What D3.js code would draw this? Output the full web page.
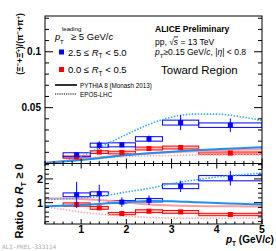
<!DOCTYPE html>
<html><head><meta charset="utf-8">
<script src="https://cdn.jsdelivr.net/npm/d3@7"></script>
<style>
body{margin:0;background:#fff;}
svg{display:block;font-family:"Liberation Sans",Arial,Helvetica,sans-serif;}
</style></head>
<body>
<svg id="c" width="276" height="251"></svg>
<script>
// ---------- data ----------
const ptCenters = [0.9, 1.4, 1.9, 2.5, 3.2, 4.3];
const binLow    = [0.6, 1.2, 1.6, 2.2, 2.8, 3.6];
const binHigh   = [1.2, 1.6, 2.2, 2.8, 3.6, 5.0];

const blueTop     = [0.0078, 0.0164, 0.0167, 0.0220, 0.0366, 0.0343];
const blueTopStat = [0.0015, 0.0035, 0.0020, 0.0030, 0.0067, 0.0060];
const blueTopSys  = [0.0018, 0.0018, 0.0018, 0.0020, 0.0022, 0.0020];
const redTop      = [0.0057, 0.0102, 0.0098, 0.0134, 0.0143, 0.0093];
const redTopStat  = [0.0006, 0.0008, 0.0008, 0.0009, 0.0010, 0.0010];
const redTopSys   = [0.0010, 0.0012, 0.0012, 0.0013, 0.0013, 0.0010];

const blueRatio     = [1.33, 1.375, 1.025, 1.10, 1.69, 2.03];
const blueRatioStat = [0.55, 0.38, 0.20, 0.20, 0.24, 0.31];
const blueRatioSys  = [0.08, 0.08, 0.06, 0.07, 0.10, 0.11];
const redRatio      = [0.92, 0.78, 0.54, 0.64, 0.61, 0.50];
const redRatioStat  = [0.08, 0.05, 0.04, 0.04, 0.04, 0.04];
const redRatioSys   = [0.07, 0.06, 0.05, 0.06, 0.06, 0.05];

const modelPt        = [0.2, 0.6, 1.0, 1.4, 2.0, 2.5, 3.0, 3.5, 4.0, 4.5, 5.0];
const pythiaBlueTop  = [0.0005, 0.0018, 0.0032, 0.0048, 0.0075, 0.0092, 0.0106, 0.0118, 0.0128, 0.0137, 0.0145];
const pythiaRedTop   = [0.0006, 0.0022, 0.0038, 0.0054, 0.0076, 0.0090, 0.0101, 0.0110, 0.0117, 0.0123, 0.0128];
const eposBlueTop    = [0.0005, 0.0020, 0.0065, 0.0140, 0.0260, 0.0350, 0.0415, 0.0442, 0.0442, 0.0420, 0.0385];
const eposRedTop     = [0.0003, 0.0018, 0.0035, 0.0048, 0.0062, 0.0068, 0.0072, 0.0075, 0.0077, 0.0078, 0.0078];

const pythiaBlueRatio = [0.85, 0.87, 0.90, 0.94, 1.02, 1.07, 1.06, 1.02, 0.98, 0.95, 0.92];
const pythiaRedRatio  = [1.18, 1.17, 1.15, 1.11, 1.00, 0.92, 0.88, 0.86, 0.85, 0.85, 0.84];
const eposBlueRatio   = [1.13, 1.16, 1.20, 1.26, 1.45, 1.60, 1.80, 1.95, 2.08, 2.17, 2.25];
const eposRedRatio    = [0.82, 0.72, 0.60, 0.52, 0.43, 0.38, 0.35, 0.34, 0.34, 0.34, 0.34];

const topMajorTicks = [0.05, 0.1];
const topTickLabels = ["0.05", "0.1"];
const topMinorTicks = [0.01,0.02,0.03,0.04,0.06,0.07,0.08,0.09,0.11,0.12,0.13];
const ratioMajorTicks = [1, 2];
const xMajorTicks = [1, 2, 3, 4, 5];

// ---------- layout ----------
const L = 45, R = 262, T1 = 16, B1 = 163.5, B2 = 224;
const svg = d3.select("#c");
const x = d3.scaleLinear().domain([0.2, 5]).range([L, R]);
const yTop = d3.scaleLinear().domain([0, 0.132]).range([B1, T1]);
const yRat = d3.scaleLinear().domain([0.1, 2.65]).range([B2, B1]);

const BLUE = "#0000ff", RED = "#ff0000";
const MBLUE = "#1f8ff0", MBLUE_D = "#3aaaf5", PINK = "#ff9c9c", PINK_D = "#ffaaaa";

const defs = svg.append("defs");
defs.append("clipPath").attr("id","cTop").append("rect").attr("x",L).attr("y",T1).attr("width",R-L).attr("height",B1-T1);
defs.append("clipPath").attr("id","cBot").append("rect").attr("x",L).attr("y",B1).attr("width",R-L).attr("height",B2-B1);

function drawPanel(y, clipId, models, series){
  const g = svg.append("g").attr("clip-path",`url(#${clipId})`);
  series.forEach(s=>{
    g.selectAll(null).data(ptCenters).enter().append("rect")
      .attr("x",(d,i)=>x(binLow[i])).attr("width",(d,i)=>x(binHigh[i])-x(binLow[i]))
      .attr("y",(d,i)=>y(s.v[i]+s.sys[i])).attr("height",(d,i)=>y(s.v[i]-s.sys[i])-y(s.v[i]+s.sys[i]))
      .attr("fill",s.fill).attr("stroke",s.color).attr("stroke-width",1);
  });
  models.forEach(m=>{
    const line = d3.line().x((d,i)=>x(modelPt[i])).y(d=>y(d)).curve(d3.curveMonotoneX);
    g.append("path").attr("d",line(m.v)).attr("fill","none").attr("stroke",m.color)
      .attr("stroke-width",m.w).attr("stroke-dasharray",m.dash||null);
  });
  series.forEach(s=>{
    g.selectAll(null).data(ptCenters).enter().append("line")
      .attr("x1",d=>x(d)).attr("x2",d=>x(d))
      .attr("y1",(d,i)=>y(s.v[i]+s.stat[i])).attr("y2",(d,i)=>y(s.v[i]-s.stat[i]))
      .attr("stroke",s.color).attr("stroke-width",1);
    g.selectAll(null).data(ptCenters).enter().append("rect")
      .attr("x",d=>x(d)-2.5).attr("y",(d,i)=>y(s.v[i])-2.5).attr("width",5).attr("height",5)
      .attr("fill",s.color);
  });
}

drawPanel(yTop,"cTop",[
  {v:pythiaRedTop,color:PINK,w:2},
  {v:eposRedTop,color:PINK_D,w:1.6,dash:"1.5,1.5"},
  {v:pythiaBlueTop,color:MBLUE,w:2},
  {v:eposBlueTop,color:MBLUE_D,w:1.6,dash:"1.5,1.5"}
],[
  {v:redTop,stat:redTopStat,sys:redTopSys,color:RED,fill:"rgba(255,120,120,0.45)"},
  {v:blueTop,stat:blueTopStat,sys:blueTopSys,color:BLUE,fill:"none"}
]);
drawPanel(yRat,"cBot",[
  {v:pythiaRedRatio,color:PINK,w:2},
  {v:eposRedRatio,color:PINK_D,w:1.6,dash:"1.5,1.5"},
  {v:pythiaBlueRatio,color:MBLUE,w:2},
  {v:eposBlueRatio,color:MBLUE_D,w:1.6,dash:"1.5,1.5"}
],[
  {v:redRatio,stat:redRatioStat,sys:redRatioSys,color:RED,fill:"rgba(255,120,120,0.45)"},
  {v:blueRatio,stat:blueRatioStat,sys:blueRatioSys,color:BLUE,fill:"none"}
]);

// ---------- axes ----------
const ax = svg.append("g").attr("stroke","#000").attr("stroke-width",1);
function yTicks(y, majors, minors, majLen, minLen){
  majors.forEach(v=>{ax.append("line").attr("x1",L).attr("x2",L+majLen).attr("y1",y(v)).attr("y2",y(v));
                     ax.append("line").attr("x1",R).attr("x2",R-majLen).attr("y1",y(v)).attr("y2",y(v));});
  minors.forEach(v=>{ax.append("line").attr("x1",L).attr("x2",L+minLen).attr("y1",y(v)).attr("y2",y(v));
                     ax.append("line").attr("x1",R).attr("x2",R-minLen).attr("y1",y(v)).attr("y2",y(v));});
}
yTicks(yTop, topMajorTicks, topMinorTicks, 8, 4);
const ratioMinor = d3.range(0.2, 2.65, 0.2).filter(v=>Math.abs(v-1)>0.01 && Math.abs(v-2)>0.01);
yTicks(yRat, ratioMajorTicks, ratioMinor, 8, 4);
const xMinor = d3.range(0.2, 5.01, 0.2).filter(v=>Math.abs(v-Math.round(v))>0.01);
function xTicks(yPos, dir){
  xMajorTicks.forEach(v=>ax.append("line").attr("x1",x(v)).attr("x2",x(v)).attr("y1",yPos).attr("y2",yPos+dir*5));
  xMinor.forEach(v=>ax.append("line").attr("x1",x(v)).attr("x2",x(v)).attr("y1",yPos).attr("y2",yPos+dir*2.5));
}
xTicks(B1,-1); xTicks(B1,1); xTicks(B2,-1);
ax.append("rect").attr("x",L).attr("y",T1).attr("width",R-L).attr("height",B2-T1).attr("fill","none");
ax.append("line").attr("x1",L).attr("x2",R).attr("y1",B1).attr("y2",B1);

// tick labels
const lab = svg.append("g").attr("font-weight","bold").attr("fill","#000");
topMajorTicks.forEach((v,i)=>lab.append("text").attr("x",41).attr("y",yTop(v)+3.5).attr("text-anchor","end").attr("font-size",10).text(topTickLabels[i]));
ratioMajorTicks.forEach(v=>lab.append("text").attr("x",43).attr("y",yRat(v)+4).attr("text-anchor","end").attr("font-size",11).text(v));
xMajorTicks.forEach(v=>lab.append("text").attr("x",x(v)).attr("y",233).attr("text-anchor","middle").attr("font-size",10.5).text(v));

// axis titles
const xt = svg.append("text").attr("x",226).attr("y",242.5).attr("font-size",10).attr("font-weight","bold");
xt.append("tspan").attr("font-style","italic").text("p");
xt.append("tspan").attr("font-size",6.5).attr("dy",3.5).text("T");
xt.append("tspan").attr("dy",-3.5).text(" (GeV/");
xt.append("tspan").attr("font-style","italic").text("c");
xt.append("tspan").text(")");

const yt = svg.append("text").attr("transform","translate(23,44) rotate(-90)").attr("text-anchor","middle").attr("font-size",8.5).attr("font-weight","bold");
yt.append("tspan").text("(Ξ");
yt.append("tspan").attr("font-size",6).attr("dy",-3.5).text("−");
yt.append("tspan").attr("dy",3.5).text("+Ξ̄");
yt.append("tspan").attr("font-size",6).attr("dy",-3.5).text("+");
yt.append("tspan").attr("dy",3.5).text(")/(π");
yt.append("tspan").attr("font-size",6).attr("dy",-3.5).text("−");
yt.append("tspan").attr("dy",3.5).text("+π");
yt.append("tspan").attr("font-size",6).attr("dy",-3.5).text("+");
yt.append("tspan").attr("dy",3.5).text(")");

const yb = svg.append("text").attr("transform","translate(23,201) rotate(-90)").attr("text-anchor","middle").attr("font-size",11).attr("font-weight","bold");
yb.append("tspan").text("Ratio to ");
yb.append("tspan").attr("font-style","italic").text("R");
yb.append("tspan").attr("font-size",7.5).attr("dy",3).text("T");
yb.append("tspan").attr("dy",-3).text(" ≥ 0");

// ---------- legend ----------
const lg = svg.append("g").attr("fill","#000");
lg.append("text").attr("x",55).attr("y",40).attr("font-size",9.5).attr("font-style","italic").text("p");
lg.append("text").attr("x",62).attr("y",31).attr("font-size",6).text("leading");
lg.append("text").attr("x",60).attr("y",44).attr("font-size",6).text("T");
const t1 = lg.append("text").attr("x",71).attr("y",40).attr("font-size",9.5);
t1.append("tspan").text("≥ 5 GeV/");
t1.append("tspan").attr("font-style","italic").text("c");

[[BLUE,"2.5 ≤ ","5.0",52],[RED,"0.0 ≤ ","0.5",69.5]].forEach(([c,a,b,yy])=>{
  lg.append("rect").attr("x",59).attr("y",yy-2.5).attr("width",5).attr("height",5).attr("fill",c);
  const t = lg.append("text").attr("x",68).attr("y",yy+3.5).attr("font-size",9.5);
  t.append("tspan").text(a);
  t.append("tspan").attr("font-style","italic").text("R");
  t.append("tspan").attr("font-size",6.5).attr("dy",2.5).text("T");
  t.append("tspan").attr("dy",-2.5).text(" < "+b);
});
lg.append("line").attr("x1",55).attr("x2",77).attr("y1",85).attr("y2",85).attr("stroke","#000").attr("stroke-width",1.6);
lg.append("line").attr("x1",55).attr("x2",77).attr("y1",94).attr("y2",94).attr("stroke","#000").attr("stroke-width",1.2).attr("stroke-dasharray","1.2,1");
lg.append("text").attr("x",80).attr("y",87.5).attr("font-size",6.3).text("PYTHIA 8 (Monash 2013)");
lg.append("text").attr("x",80).attr("y",96.5).attr("font-size",6.3).text("EPOS-LHC");

// right texts
lg.append("text").attr("x",155).attr("y",31.5).attr("font-size",8.5).attr("font-weight","bold").text("ALICE Preliminary");
const t2 = lg.append("text").attr("x",155).attr("y",44.5).attr("font-size",8.5);
t2.append("tspan").text("pp, ");
t2.append("tspan").text("√");
t2.append("tspan").attr("font-style","italic").attr("text-decoration","overline").text("s");
t2.append("tspan").text(" = 13 TeV");
const t3 = lg.append("text").attr("x",155).attr("y",55).attr("font-size",8.5);
t3.append("tspan").attr("font-style","italic").text("p");
t3.append("tspan").attr("font-size",6).attr("dy",2.5).text("T");
t3.append("tspan").attr("dy",-2.5).text("≥0.15 GeV/");
t3.append("tspan").attr("font-style","italic").text("c");
t3.append("tspan").text(", |");
t3.append("tspan").attr("font-style","italic").text("η");
t3.append("tspan").text("| < 0.8");
lg.append("text").attr("x",161).attr("y",74).attr("font-size",11.5).text("Toward Region");

svg.append("text").attr("x",2).attr("y",249).attr("font-size",6).attr("fill","#aaa")
  .attr("font-family","'DejaVu Sans Mono',monospace").text("ALI-PREL-333114");
</script>
</body></html>
